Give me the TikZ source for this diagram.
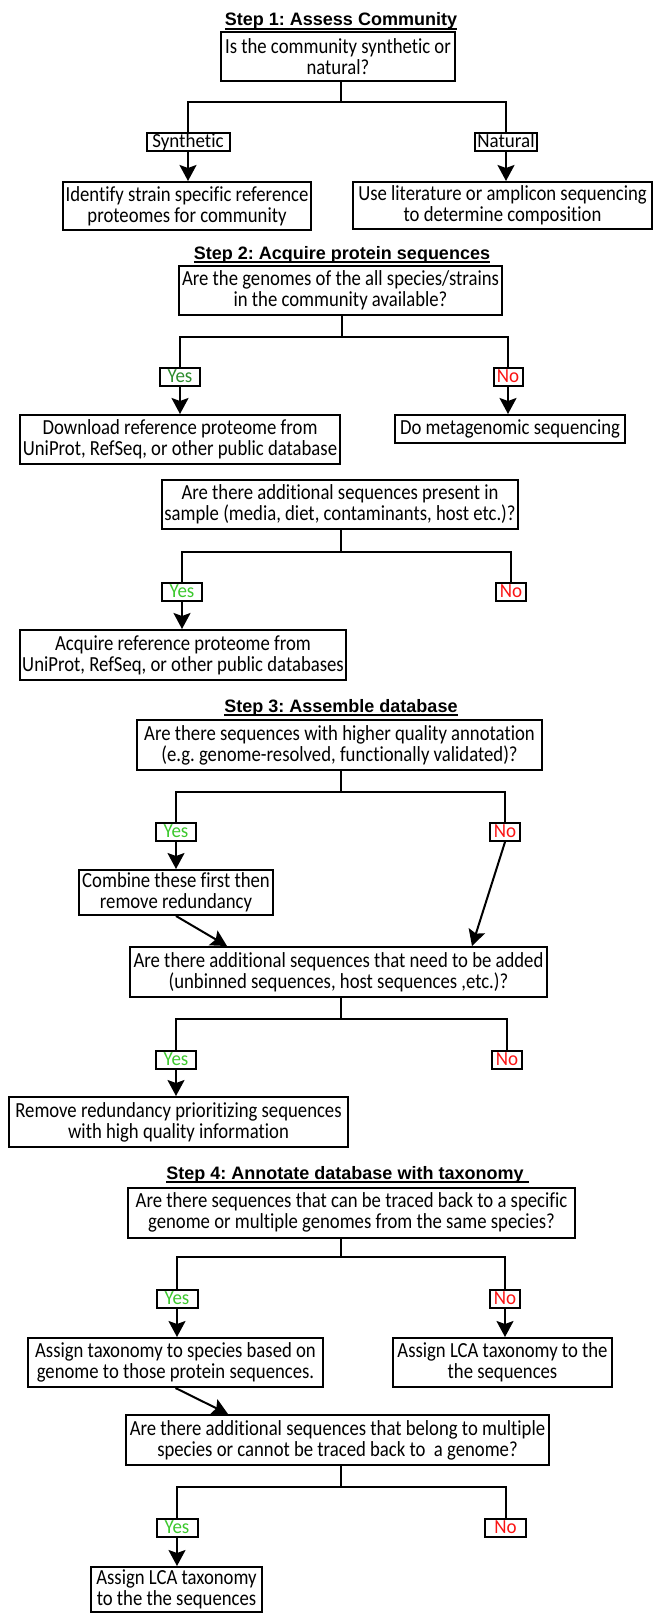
\documentclass[tikz,border=0pt]{standalone}
\usepackage{fontspec}
\setmainfont{Carlito}[FakeStretch=0.87,Ligatures=NoCommon]
\newfontfamily\labfont{Carlito}[FakeStretch=0.95,Ligatures=NoCommon]
\newfontfamily\titlefont{Liberation Sans}
\usetikzlibrary{arrows.meta}
\definecolor{yesdark}{RGB}{45,140,45}
\definecolor{yesgreen}{RGB}{60,200,45}
\definecolor{nored}{RGB}{250,20,20}
\frenchspacing
\begin{document}
\begin{tikzpicture}[x=1pt,y=-1pt,
  box/.style={draw, line width=2pt, align=center, inner sep=2pt, font=\fontsize{21.5}{21}\selectfont},
  lab/.style={draw, line width=2pt, inner sep=0pt, minimum height=18pt, text height=12.8pt, text depth=2.5pt, font=\labfont\fontsize{20}{21}\selectfont},
  yeslab/.style={lab, minimum width=40pt, text=yesgreen},
  nolab/.style={lab, minimum width=30pt, text=nored},
  ttl/.style={inner sep=0pt, anchor=base, font=\titlefont\bfseries\fontsize{18}{21}\selectfont},
  con/.style={line width=2pt},
  arr/.style={line width=2pt, -{Stealth[length=16pt,width=17pt,inset=3pt]}},
  uline/.style={line width=1.6pt}
]
\useasboundingbox (0,0) rectangle (654,1613);

% ---------- Step 1
\node[ttl] (t1) at (341,26) {Step 1: Assess Community};
\draw[uline] ([yshift=-3pt]t1.base west) -- ([yshift=-3pt]t1.base east);
\node[box, minimum width=234pt, minimum height=49pt] (q1) at (338,56.5) {Is the community synthetic or\\natural?};
\coordinate (j1) at (341,102);
\node[lab, minimum width=83pt] (syn) at (188,142.5) {Synthetic};
\node[lab, minimum width=62pt] (nat) at (506,142.5) {Natural};
\node[box, minimum width=248pt, minimum height=48pt] (a1a) at (187,206) {Identify strain specific reference\\proteomes for community};
\node[box, minimum width=299pt, minimum height=47pt] (a1b) at (502.5,205.5) {Use literature or amplicon sequencing\\to determine composition};
\draw[con] (j1 |- q1.south) -- (j1);
\draw[con] (syn.north) |- (j1) -| (nat.north);
\draw[arr] (syn.south) -- (syn.south |- a1a.north);
\draw[arr] (nat.south) -- (nat.south |- a1b.north);

% ---------- Step 2
\node[ttl] (t2) at (342,259) {Step 2: Acquire protein sequences};
\draw[uline] ([yshift=-3pt]t2.base west) -- ([yshift=-3pt]t2.base east);
\node[box, minimum width=323pt, minimum height=49pt] (q2) at (340.5,290.5) {Are the genomes of the all species/strains\\in the community available?};
\coordinate (j2) at (342,337);
\node[yeslab, text=yesdark] (y2) at (180,377) {Yes};
\node[nolab, minimum width=29pt] (n2) at (508,377) {No};
\node[box, minimum width=320pt, minimum height=49pt] (a2a) at (180,439.5) {Download reference proteome from\\UniProt, RefSeq, or other public database};
\node[box, minimum width=230pt, minimum height=28pt] (a2b) at (510,429) {Do metagenomic sequencing};
\draw[con] (j2 |- q2.south) -- (j2);
\draw[con] (y2.north) |- (j2) -| (n2.north);
\draw[arr] (y2.south) -- (y2.south |- a2a.north);
\draw[arr] (n2.south) -- (n2.south |- a2b.north);

\node[box, minimum width=352pt, minimum height=49pt] (q3) at (340,504.5) {Are there additional sequences present in\\sample (media, diet, contaminants, host etc.)?};
\coordinate (j3) at (341,552);
\node[yeslab] (y3) at (182,592) {Yes};
\node[nolab] (n3) at (511,592) {No};
\node[box, minimum width=326pt, minimum height=50pt] (a3) at (183,655) {Acquire reference proteome from\\UniProt, RefSeq, or other public databases};
\draw[con] (j3 |- q3.south) -- (j3);
\draw[con] (y3.north) |- (j3) -| (n3.north);
\draw[arr] (y3.south) -- (y3.south |- a3.north);

% ---------- Step 3
\node[ttl] (t3) at (341,712) {Step 3: Assemble database};
\draw[uline] ([yshift=-3pt]t3.base west) -- ([yshift=-3pt]t3.base east);
\node[box, minimum width=405pt, minimum height=50pt] (q4) at (339.5,745) {Are there sequences with higher quality annotation\\(e.g. genome-resolved, functionally validated)?};
\coordinate (j4) at (341,792);
\node[yeslab] (y4) at (176,832) {Yes};
\node[nolab] (n4) at (505,832) {No};
\node[box, minimum width=194pt, minimum height=45pt] (a4) at (176,892.5) {Combine these first then\\remove redundancy};
\node[box, minimum width=417pt, minimum height=50pt] (q5) at (338.5,972) {Are there additional sequences that need to be added\\(unbinned sequences, host sequences ,etc.)?};
\draw[con] (j4 |- q4.south) -- (j4);
\draw[con] (y4.north) |- (j4) -| (n4.north);
\draw[arr] (y4.south) -- (y4.south |- a4.north);
\draw[arr] (a4.south) -- ([xshift=-111.5pt]q5.north);
\draw[arr] (n4.south) -- ([xshift=133.5pt]q5.north);

\coordinate (j5) at (341,1019);
\node[yeslab] (y5) at (176,1060) {Yes};
\node[nolab] (n5) at (507,1060) {No};
\node[box, minimum width=339pt, minimum height=50pt] (a5) at (178.5,1122) {Remove redundancy prioritizing sequences\\with high quality information};
\draw[con] (j5 |- q5.south) -- (j5);
\draw[con] (y5.north) |- (j5) -| (n5.north);
\draw[arr] (y5.south) -- (y5.south |- a5.north);

% ---------- Step 4
\node[ttl] (t4) at (345,1179) {Step 4: Annotate database with taxonomy};
\draw[uline] ([yshift=-3pt]t4.base west) -- ([yshift=-3pt,xshift=5pt]t4.base east);
\node[box, minimum width=447pt, minimum height=50pt] (q6) at (351.5,1212.5) {Are there sequences that can be traced back to a specific\\genome or multiple genomes from the same species?};
\coordinate (j6) at (341,1257);
\node[yeslab, minimum width=41pt] (y6) at (177,1299) {Yes};
\node[nolab] (n6) at (505,1299) {No};
\node[box, minimum width=295pt, minimum height=49pt] (a6a) at (175.5,1362.5) {Assign taxonomy to species based on\\genome to those protein sequences.};
\node[box, minimum width=219pt, minimum height=49pt] (a6b) at (502.5,1362.5) {Assign LCA taxonomy to the\\the sequences};
\draw[con] (j6 |- q6.south) -- (j6);
\draw[con] (y6.north) |- (j6) -| (n6.north);
\draw[arr] (y6.south) -- (y6.south |- a6a.north);
\draw[arr] (n6.south) -- (n6.south |- a6b.north);

\node[box, minimum width=423pt, minimum height=50pt] (q7) at (337.5,1440) {Are there additional sequences that belong to multiple\\species or cannot be traced back to\ \ a genome?};
\draw[arr] (a6a.south) -- ([xshift=-109.5pt]q7.north);
\coordinate (j7) at (341,1487);
\node[yeslab, minimum width=41pt] (y7) at (177,1528) {Yes};
\node[nolab, minimum width=41pt] (n7) at (505.5,1528) {No};
\node[box, minimum width=171pt, minimum height=45pt] (a7) at (176.5,1589.5) {Assign LCA taxonomy\\to the the sequences};
\draw[con] (j7 |- q7.south) -- (j7);
\draw[con] (y7.north) |- (j7) -| (n7.north);
\draw[arr] (y7.south) -- (y7.south |- a7.north);
\end{tikzpicture}
\end{document}
